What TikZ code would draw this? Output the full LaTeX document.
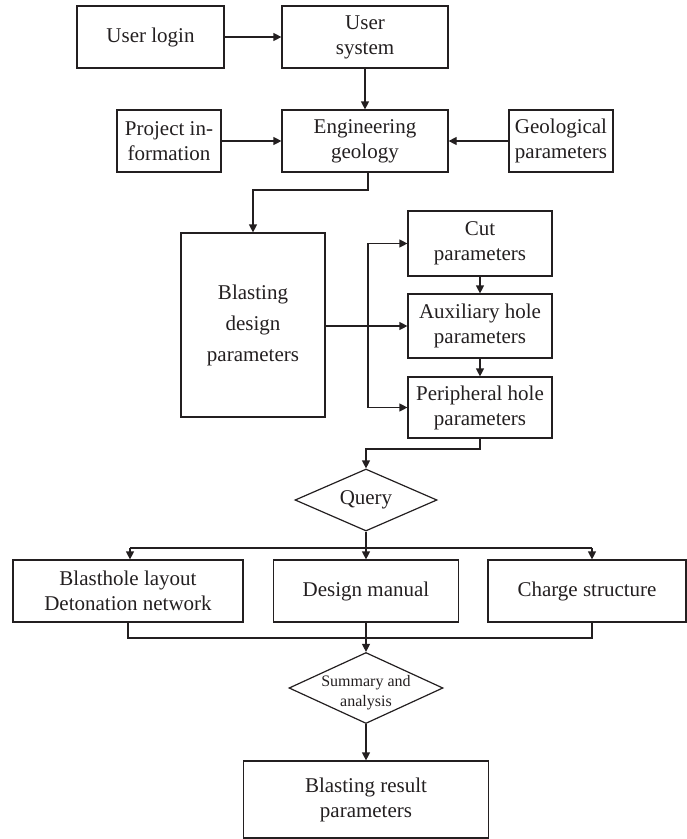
\documentclass[tikz,border=0pt]{standalone}
\usepackage{fontspec}
\setmainfont{Liberation Serif}
\usetikzlibrary{arrows.meta,shapes.geometric,calc}
\definecolor{ink}{HTML}{231F20}
\tikzset{
  box/.style={draw=ink, line width=1.2pt, rectangle, align=center, text=ink,
    font=\fontsize{21}{25}\selectfont, inner sep=0pt},
  dia/.style={draw=ink, line width=1.2pt, diamond, align=center, text=ink,
    inner sep=0pt},
  arr/.style={draw=ink, line width=1.2pt, -{Triangle[length=8pt,width=8pt]}},
  ln/.style={draw=ink, line width=1.2pt}
}
\begin{document}
\begin{tikzpicture}[x=1pt,y=-1pt]
\useasboundingbox (0,0) rectangle (687,839);
% top rows
\node[box, minimum width=147, minimum height=62] (login) at (150.5,37) {User login};
\node[box, minimum width=166, minimum height=62] (usys) at (365,37) {User\\system};
\node[box, minimum width=104, minimum height=62] (proj) at (169,141) {Project in-\\formation};
\node[box, minimum width=166, minimum height=62] (eng) at (365,141) {Engineering\\geology};
\node[box, minimum width=104, minimum height=62] (geo) at (561,141) {Geological\\parameters};
% blasting design
\node[box, minimum width=144, minimum height=184, font=\fontsize{21}{31}\selectfont] (blast) at (253,325) {Blasting\\design\\parameters};
\node[box, minimum width=144, minimum height=65] (cut) at (480,243.5) {Cut\\parameters};
\node[box, minimum width=144, minimum height=64] (aux) at (480,326) {Auxiliary hole\\parameters};
\node[box, minimum width=144, minimum height=61] (peri) at (480,407.5) {Peripheral hole\\parameters};
% query
\node[dia, shape aspect=2.3, minimum width=142, minimum height=62, font=\fontsize{21}{25}\selectfont] (query) at (366,500) {Query};
\node[box, minimum width=230, minimum height=62] (bh) at (128,591) {Blasthole layout\\Detonation network};
\node[box, minimum width=185, minimum height=62] (dm) at (366,591) {Design manual};
\node[box, minimum width=198, minimum height=62] (cs) at (587,591) {Charge structure};
% summary
\node[dia, shape aspect=2.17, minimum width=154, minimum height=71] (summ) at (366,688) {};
\node[align=center, text=ink, inner sep=0pt, font=\fontsize{16}{20}\selectfont] (summtxt) at (366,693) {Summary and\\analysis};
\node[box, minimum width=245, minimum height=77] (res) at (366,799.5) {Blasting result\\parameters};
% coordinates
\coordinate (e1) at (368,190);
\coordinate (bx) at (368,326);
\coordinate (q1) at (480,449);
\coordinate (qb) at (366,548);
\coordinate (bl) at (130,548);
\coordinate (br) at (592,548);
\coordinate (m1) at (128,638);
\coordinate (m2) at (592,638);
% connectors
\draw[arr] (login.east) -- (usys.west);
\draw[arr] (usys.south) -- (eng.north);
\draw[arr] (proj.east) -- (eng.west);
\draw[arr] (geo.west) -- (eng.east);
\draw[arr] (e1 |- eng.south) -- (e1) -| (blast.north);
\draw[arr] (blast.east |- aux.west) -- (aux.west);
\draw[arr] (bx) |- (cut.west);
\draw[arr] (bx) |- (peri.west);
\draw[arr] (cut.south) -- (aux.north);
\draw[arr] (aux.south) -- (peri.north);
\draw[arr] (peri.south) -- (q1) -| (query.north);
\draw[ln] (query.south) -- (qb);
\draw[ln] (bl) -- (br);
\draw[arr] (bl) -- (bl |- bh.north);
\draw[arr] (qb) -- (dm.north);
\draw[arr] (br) -- (br |- cs.north);
\draw[ln] (bh.south) -- (m1) -- (m2) -- (m2 |- cs.south);
\draw[arr] (dm.south) -- (summ.north);
\draw[arr] (summ.south) -- (res.north);
\end{tikzpicture}
\end{document}
